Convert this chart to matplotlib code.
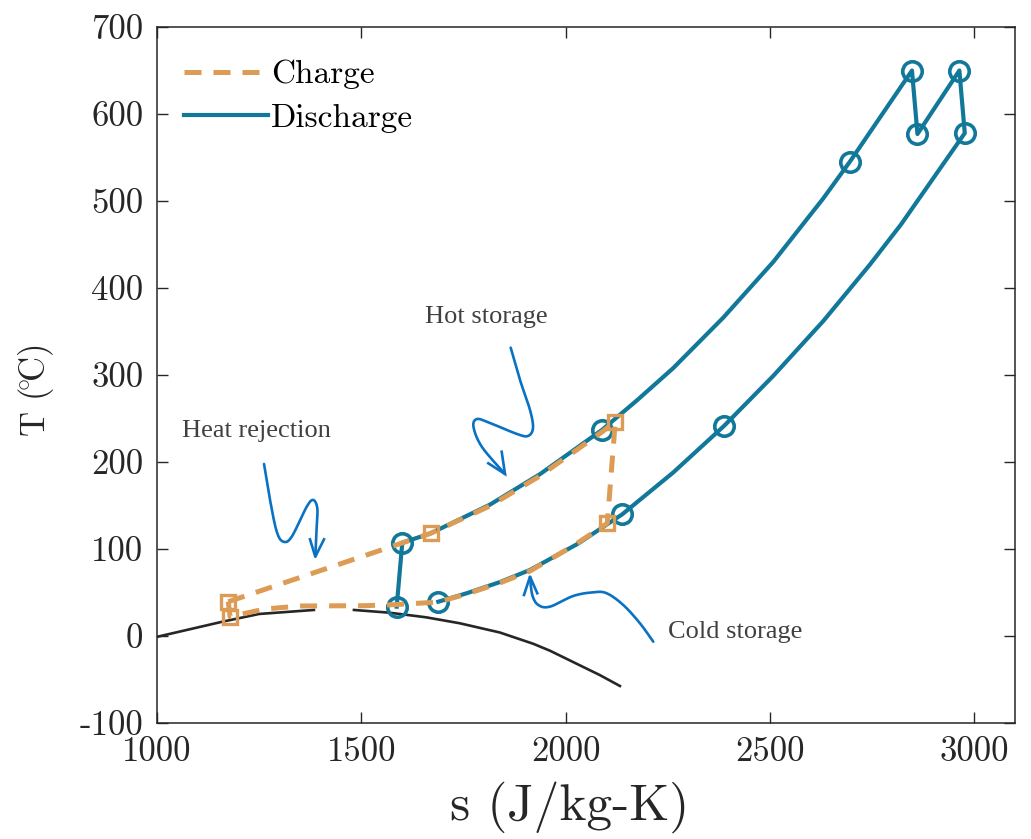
import numpy as np
import matplotlib
matplotlib.use("Agg")
import matplotlib.pyplot as plt

plt.rcParams['font.family'] = ['cmr10', 'DejaVu Serif']
plt.rcParams['mathtext.fontset'] = 'cm'
plt.rcParams['axes.unicode_minus'] = False
plt.rcParams['axes.formatter.use_mathtext'] = True

# ---------------- data ----------------
# Discharge path (s in J/kg-K, T in degC)
discharge_s = [1586.6, 1600.3, 1669.8, 1815.0, 1937.3, 2089.0, 2175.0, 2263.6, 2386.0, 2508.3,
               2630.7, 2695.5, 2847.8, 2861.2, 2963.8, 2977.0, 2820.9, 2745.0, 2630.7, 2508.3,
               2387.7, 2263.6, 2138.8, 2030.0, 1912.9, 1839.5, 1758.0, 1688.5]
discharge_T = [33.7, 107.2, 118.0, 151.0, 186.0, 236.8, 271.0, 308.0, 366.0, 430.0,
               503.0, 545.0, 650.0, 577.0, 650.0, 578.0, 473.0, 427.0, 362.0, 299.0,
               241.4, 188.0, 139.9, 106.0, 75.9, 62.0, 49.1, 39.4]
discharge_marks = [0, 1, 5, 11, 12, 13, 14, 15, 20, 22, 27]

# Charge path
charge_s = [1174.5, 1669.8, 1815.0, 1937.3, 2089.0, 2121.6, 2102.0, 2018.0, 1912.9, 1839.5,
            1758.0, 1688.5, 1589.8, 1509.0, 1350.0, 1264.3, 1178.7, 1174.5]
charge_T = [39.4, 118.0, 149.5, 184.0, 234.5, 246.3, 129.5, 103.4, 74.7, 61.0,
            48.3, 39.0, 36.2, 34.8, 34.5, 31.0, 22.2, 39.4]
charge_marks = [0, 1, 5, 6, 16]

# CO2 saturation dome (liquid and vapour branches)
sat_liq_s = [1000, 1160, 1250, 1384]
sat_liq_T = [-1.0, 16.4, 25.3, 29.9]
sat_vap_s = [1482, 1568, 1658, 1741, 1839, 1921, 1962, 2084, 2133]
sat_vap_T = [29.9, 26.8, 21.5, 14.6, 4.0, -9.0, -17.0, -45.0, -57.5]

x_ticks = [1000, 1500, 2000, 2500, 3000]
y_ticks = [-100, 0, 100, 200, 300, 400, 500, 600, 700]

# ---------------- style ----------------
TEAL = '#11789A'
ORANGE = '#DD9C55'
BLUE = '#0A72C2'
DARK = '#262626'
ANN = '#404040'
DASH = (0, (3.4, 2.4))

fig = plt.figure(figsize=(10.31, 8.39), dpi=100)
ax = fig.add_axes([0.1523, 0.1383, 0.8322, 0.8295])

ax.plot(sat_liq_s, sat_liq_T, color=DARK, lw=1.9, zorder=1)
ax.plot(sat_vap_s, sat_vap_T, color=DARK, lw=1.9, zorder=1)

ax.plot(discharge_s, discharge_T, color=TEAL, lw=3.0, zorder=2, solid_joinstyle='round')
ax.plot(discharge_s, discharge_T, ls='none', marker='o', ms=14, mfc='none', mec=TEAL,
        mew=2.6, markevery=discharge_marks, zorder=3)

ax.plot(charge_s, charge_T, color=ORANGE, lw=3.6, ls=DASH, zorder=4)
ax.plot(charge_s, charge_T, ls='none', marker='s', ms=10.5, mfc='none', mec=ORANGE,
        mew=2.4, markevery=charge_marks, zorder=5)

# legend (lines only)
h1, = ax.plot([], [], color=ORANGE, lw=3.6, ls=DASH)
h2, = ax.plot([], [], color=TEAL, lw=3.0)
ax.legend([h1, h2], ['Charge', 'Discharge'], loc='upper left',
          bbox_to_anchor=(0.032, 0.953), frameon=False, fontsize=24,
          handlelength=2.5, handletextpad=0.1, labelspacing=0.42,
          borderpad=0, borderaxespad=0)

# ---------------- annotations ----------------
def smooth(pts, n=20):
    pts = np.asarray(pts, float)
    p = np.vstack([pts[0], pts, pts[-1]])
    out = []
    for i in range(1, len(p) - 2):
        p0, p1, p2, p3 = p[i - 1], p[i], p[i + 1], p[i + 2]
        t = np.linspace(0, 1, n, endpoint=False)[:, None]
        out.append(0.5 * ((2 * p1) + (-p0 + p2) * t + (2 * p0 - 5 * p1 + 4 * p2 - p3) * t ** 2
                          + (-p0 + 3 * p1 - 3 * p2 + p3) * t ** 3))
    out.append(p[-2][None, :])
    return np.vstack(out)

hot_arrow = [(1865.6, 331.4), (1888.4, 294.3), (1912.9, 259.8), (1920.2, 239.1), (1908, 229.9),
             (1881, 232.2), (1815, 244.8), (1783.2, 249.4), (1774.6, 240.2), (1795.4, 217.2),
             (1851.7, 186.2)]
hot_wings = [(1810.8, 198.5), (1851.7, 186.2), (1843.6, 211.8)]
heat_arrow = [(1261.9, 197.7), (1276.6, 156.3), (1293, 119.9), (1309.1, 108.4), (1329.7, 114.1),
              (1366.4, 148.6), (1382.5, 156.3), (1392.3, 146.8), (1390.8, 125.6), (1387.4, 91.1)]
heat_wings = [(1374.4, 111.1), (1387.4, 91.1), (1408.7, 111.1)]
cold_arrow = [(2214.6, -6.6), (2182, 14.6), (2141.2, 35.6), (2100.6, 49.1), (2067.8, 50.2),
              (2018.8, 46.0), (1961.8, 33.7), (1933.2, 35.6), (1918.5, 47.1), (1912.9, 68.2)]
cold_wings = [(1898.2, 47.1), (1912.9, 68.2), (1930.7, 49.1)]

for path, wings in [(hot_arrow, hot_wings), (heat_arrow, heat_wings), (cold_arrow, cold_wings)]:
    c = smooth(path)
    ax.plot(c[:, 0], c[:, 1], color=BLUE, lw=1.9, solid_capstyle='round', zorder=6)
    w = np.asarray(wings)
    ax.plot(w[:, 0], w[:, 1], color=BLUE, lw=1.9, solid_joinstyle='miter', zorder=6)

tfont = dict(family=['Liberation Serif', 'DejaVu Serif'], size=19, color=ANN)
ax.text(1656, 360, 'Hot storage', ha='left', va='baseline', **tfont)
ax.text(1061, 229, 'Heat rejection', ha='left', va='baseline', **tfont)
ax.text(2251, -2.3, 'Cold storage', ha='left', va='baseline', **tfont)

# ---------------- axes ----------------
ax.set_xlim(1000, 3100)
ax.set_ylim(-100, 700)
ax.set_xticks(x_ticks)
ax.set_xticklabels([str(v) for v in x_ticks])
ax.set_yticks(y_ticks)
ax.set_yticklabels([str(v) for v in y_ticks])
ax.tick_params(direction='in', top=True, right=True, length=8, width=1.0,
               colors=DARK, labelsize=25, pad=10)
for sp in ax.spines.values():
    sp.set_color(DARK)
    sp.set_linewidth(1.1)

ax.set_xlabel('s (J/kg-K)', fontsize=37, color=DARK)
ax.xaxis.set_label_coords(0.481, -0.083)
ax.set_ylabel(r'T $(\!^{\circ}\!\mathrm{C})$', fontsize=25, color=DARK)
ax.yaxis.set_label_coords(-0.118, 0.478)

fig.savefig('out.png', dpi=100)
